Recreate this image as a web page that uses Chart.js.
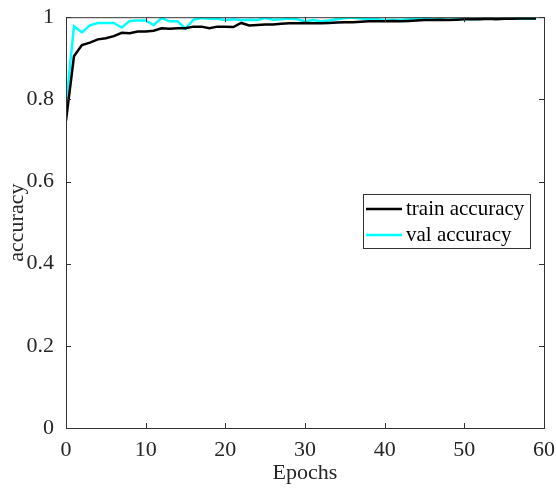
<!DOCTYPE html>
<html>
<head>
<meta charset="utf-8">
<script src="https://cdn.jsdelivr.net/npm/chart.js@4"></script>
<style>
  html, body { margin: 0; padding: 0; background: #fff; }
  #wrap { width: 556px; height: 492px; position: relative; }
</style>
</head>
<body>
<div id="wrap"><canvas id="chart"></canvas></div>
<script>
// values
const epochs = Array.from({ length: 60 }, (_, i) => i);
const trainAcc = [0.748, 0.905, 0.932, 0.938, 0.946, 0.949, 0.954, 0.962, 0.961, 0.965,
  0.965, 0.967, 0.973, 0.972, 0.973, 0.973, 0.977, 0.977, 0.973, 0.977,
  0.977, 0.976, 0.986, 0.980, 0.981, 0.982, 0.982, 0.984, 0.985, 0.985,
  0.986, 0.985, 0.985, 0.986, 0.987, 0.988, 0.988, 0.989, 0.990, 0.990,
  0.990, 0.991, 0.990, 0.991, 0.992, 0.993, 0.993, 0.994, 0.993, 0.994,
  0.995, 0.995, 0.995, 0.996, 0.995, 0.996, 0.996, 0.997, 0.997, 0.997];
const valAcc = [0.785, 0.978, 0.963, 0.980, 0.986, 0.986, 0.986, 0.975, 0.991, 0.992,
  0.992, 0.981, 0.998, 0.990, 0.990, 0.972, 0.994, 0.998, 0.996, 0.996,
  0.993, 0.995, 0.993, 0.994, 0.993, 0.998, 0.994, 0.995, 0.997, 0.995,
  0.990, 0.993, 0.990, 0.992, 0.995, 0.998, 0.999, 0.997, 0.995, 0.995,
  0.993, 0.994, 0.993, 0.995, 0.996, 0.998, 0.995, 0.995, 0.994, 0.995,
  0.996, 0.995, 0.996, 0.997, 0.996, 0.996, 0.997, 0.997, 0.996, 0.997];
const seriesNames = ['train accuracy', 'val accuracy'];
const xTicks = [0, 10, 20, 30, 40, 50, 60];
const yTicks = [0, 0.2, 0.4, 0.6, 0.8, 1];

const FONT = 'Liberation Serif';
const AXIS = '#333333';

// box round the plot plus small inward tick marks
const boxPlugin = {
  id: 'box',
  afterDraw(chart) {
    const { ctx, chartArea: a, scales } = chart;
    ctx.save();
    ctx.strokeStyle = AXIS;
    ctx.lineWidth = 1;
    ctx.strokeRect(a.left + 0.5, a.top + 0.5, a.right - a.left, a.bottom - a.top);
    ctx.beginPath();
    xTicks.forEach(v => {
      const px = Math.round(scales.x.getPixelForValue(v)) + 0.5;
      ctx.moveTo(px, a.bottom); ctx.lineTo(px, a.bottom - 5);
      ctx.moveTo(px, a.top); ctx.lineTo(px, a.top + 5);
    });
    yTicks.forEach(v => {
      const py = Math.round(scales.y.getPixelForValue(v)) + 0.5;
      ctx.moveTo(a.left, py); ctx.lineTo(a.left + 5, py);
      ctx.moveTo(a.right, py); ctx.lineTo(a.right - 5, py);
    });
    ctx.stroke();
    ctx.restore();
  }
};

// matlab style legend box
const legendPlugin = {
  id: 'boxLegend',
  afterDraw(chart) {
    const { ctx } = chart;
    const x0 = 363, y0 = 194, w = 167, h = 54;
    ctx.save();
    ctx.fillStyle = '#fff';
    ctx.fillRect(x0, y0, w, h);
    ctx.strokeStyle = AXIS;
    ctx.lineWidth = 1;
    ctx.strokeRect(x0 + 0.5, y0 + 0.5, w, h);
    ctx.font = '21px "' + FONT + '"';
    ctx.textBaseline = 'middle';
    chart.data.datasets.forEach((ds, i) => {
      const y = y0 + 15 + i * 26;
      ctx.strokeStyle = ds.borderColor;
      ctx.lineWidth = 2.5;
      ctx.beginPath();
      ctx.moveTo(x0 + 3, y); ctx.lineTo(x0 + 39, y);
      ctx.stroke();
      ctx.fillStyle = '#000';
      ctx.fillText(ds.label, x0 + 43, y);
    });
    ctx.restore();
  }
};

new Chart(document.getElementById('chart'), {
  type: 'line',
  data: {
    datasets: [
      {
        label: seriesNames[0],
        data: epochs.map((e, i) => ({ x: e, y: trainAcc[i] })),
        borderColor: '#000000',
        borderWidth: 2.5,
        pointRadius: 0,
        tension: 0
      },
      {
        label: seriesNames[1],
        data: epochs.map((e, i) => ({ x: e, y: valAcc[i] })),
        borderColor: '#00ffff',
        borderWidth: 2.5,
        pointRadius: 0,
        tension: 0
      }
    ]
  },
  options: {
    responsive: true,
    maintainAspectRatio: false,
    animation: false,
    layout: { padding: { top: 14, right: 12, left: 0, bottom: 0 } },
    plugins: {
      legend: { display: false },
      tooltip: { enabled: false }
    },
    scales: {
      x: {
        type: 'linear',
        min: 0,
        max: 60,
        afterBuildTicks: s => { s.ticks = xTicks.map(v => ({ value: v })); },
        afterFit: s => { s.height = 64; },
        grid: { display: false },
        border: { display: false },
        ticks: {
          color: '#262626',
          font: { family: FONT, size: 22 },
          padding: 1,
          maxRotation: 0
        },
        title: {
          display: true,
          text: 'Epochs',
          color: '#262626',
          font: { family: FONT, size: 22 },
          padding: { top: 0, bottom: 6 }
        }
      },
      y: {
        min: 0,
        max: 1,
        afterBuildTicks: s => { s.ticks = yTicks.map(v => ({ value: v })); },
        afterFit: s => { s.width = 66; },
        grid: { display: false },
        border: { display: false },
        ticks: {
          color: '#262626',
          font: { family: FONT, size: 22 },
          padding: 4,
          callback: v => String(+v.toFixed(1))
        },
        title: {
          display: true,
          text: 'accuracy',
          color: '#262626',
          font: { family: FONT, size: 22 },
          padding: { top: 4, bottom: 0 }
        }
      }
    }
  },
  plugins: [boxPlugin, legendPlugin]
});
</script>
</body>
</html>
